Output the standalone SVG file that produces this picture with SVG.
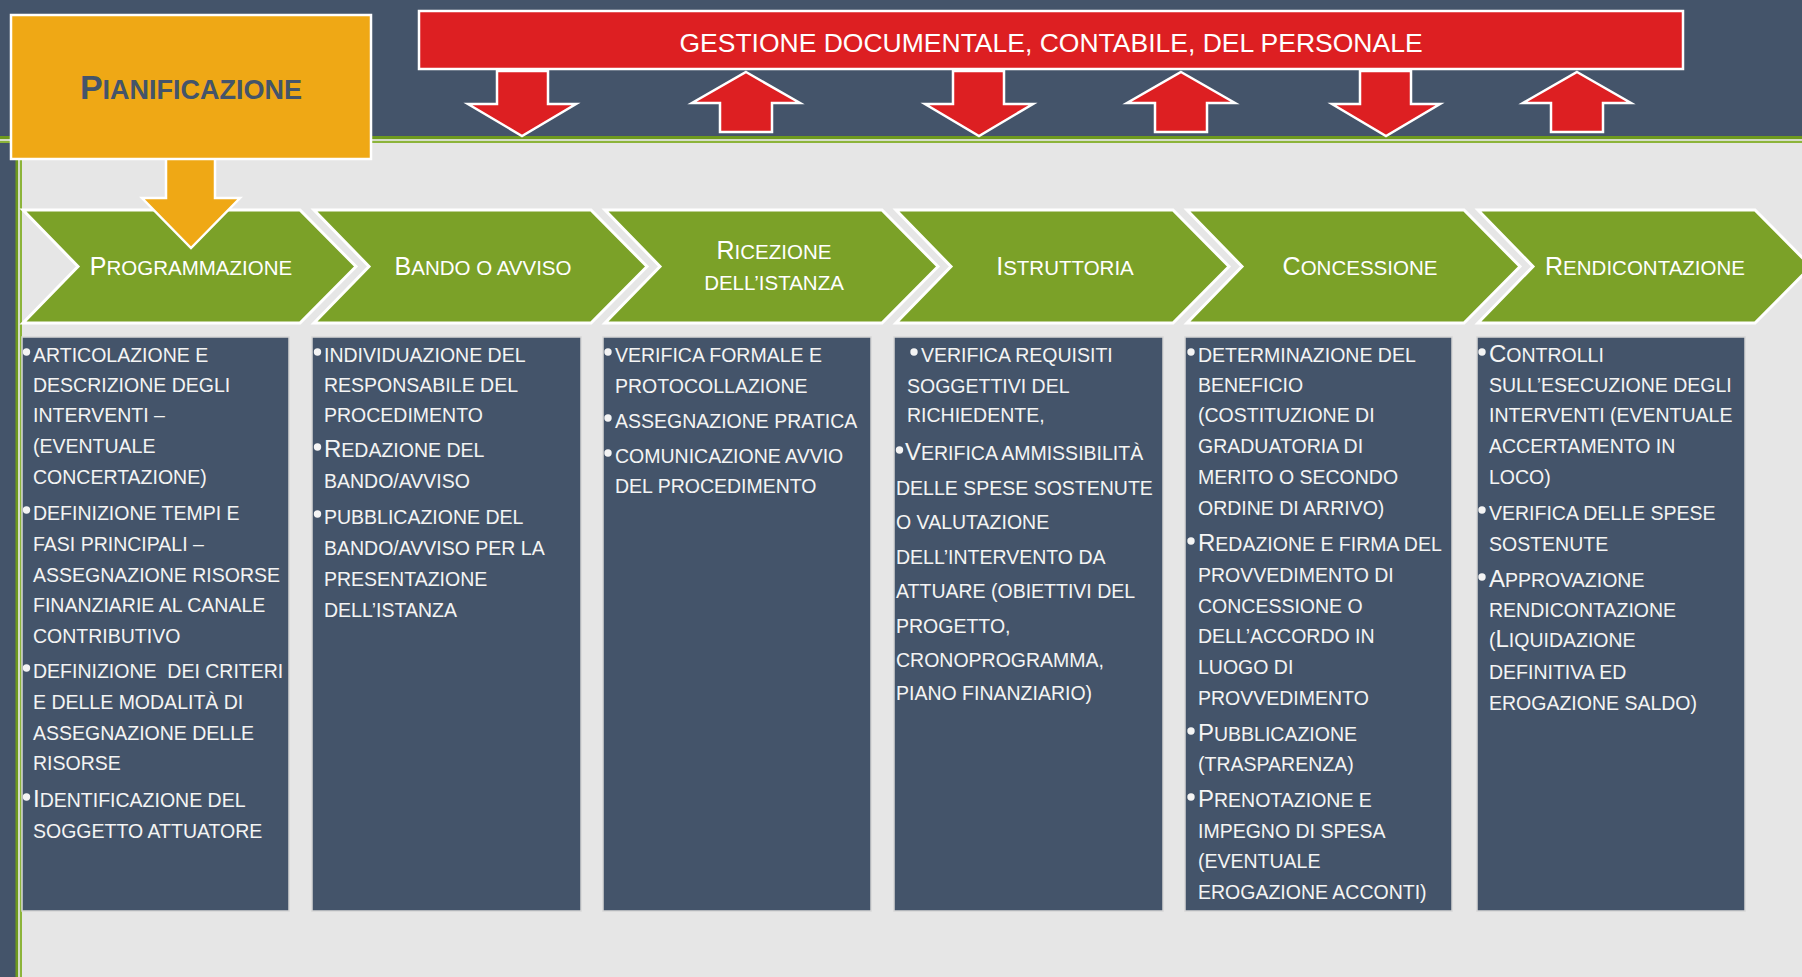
<svg xmlns="http://www.w3.org/2000/svg" width="1802" height="977" viewBox="0 0 1802 977">
<defs>
<style>
text { font-family: "Liberation Sans", Arial, sans-serif; }
.bt { font-size: 19.5px; fill: #F4F4F4; }
.bt .b { font-size: 24px; }
.ch { font-size: 20.5px; fill: #FFFFFF; text-anchor: middle; }
.ch .b { font-size: 25px; }
.chev { fill: #7BA128; stroke: #FFFFFF; stroke-width: 3; stroke-linejoin: miter; }
.box { fill: #44546A; stroke: #D6D6D6; stroke-width: 1.5; }
.bul { fill: #F4F4F4; }
.rarrow { fill: #DD1F22; stroke: #FFFFFF; stroke-width: 2.5; stroke-linejoin: miter; }
</style>
</defs>

<g id="background">
<rect x="0" y="0" width="1802" height="977" fill="#44546A"/>
<rect x="22" y="143" width="1780" height="834" fill="#E6E6E6"/>
<rect x="0" y="136" width="1802" height="3" fill="#6E9A1E"/>
<rect x="0" y="139" width="1802" height="2" fill="#D5DDC6"/>
<rect x="0" y="141" width="1802" height="2" fill="#8CB43A"/>
<rect x="15.5" y="136" width="2.5" height="841" fill="#6E9A1E"/>
<rect x="18" y="136" width="2" height="841" fill="#D5DDC6"/>
<rect x="20" y="136" width="2" height="841" fill="#8CB43A"/>
</g>

<g id="chevron-programmazione">
<polygon class="chev" points="23,210 300,210 356,266.5 300,323 23,323 78,266.5"/>
<text class="ch" x="191" y="275"><tspan class="b">P</tspan>ROGRAMMAZIONE</text>
</g>
<g id="chevron-bando">
<polygon class="chev" points="314,210 591,210 647,266.5 591,323 314,323 369,266.5"/>
<text class="ch" x="483" y="275"><tspan class="b">B</tspan>ANDO O AVVISO</text>
</g>
<g id="chevron-ricezione">
<polygon class="chev" points="605,210 882,210 938,266.5 882,323 605,323 660,266.5"/>
<text class="ch" x="774" y="259"><tspan class="b">R</tspan>ICEZIONE</text>
<text class="ch" x="774" y="290">DELL’ISTANZA</text>
</g>
<g id="chevron-istruttoria">
<polygon class="chev" points="896,210 1173,210 1229,266.5 1173,323 896,323 951,266.5"/>
<text class="ch" x="1065" y="275"><tspan class="b">I</tspan>STRUTTORIA</text>
</g>
<g id="chevron-concessione">
<polygon class="chev" points="1187,210 1464,210 1520,266.5 1464,323 1187,323 1242,266.5"/>
<text class="ch" x="1360" y="275"><tspan class="b">C</tspan>ONCESSIONE</text>
</g>
<g id="chevron-rendicontazione">
<polygon class="chev" points="1478,210 1755,210 1811,266.5 1755,323 1478,323 1533,266.5"/>
<text class="ch" x="1645" y="275"><tspan class="b">R</tspan>ENDICONTAZIONE</text>
</g>

<g id="box-programmazione">
<rect class="box" x="22" y="337" width="267" height="574"/>
<circle class="bul" cx="26.5" cy="352" r="3.7"/>
<circle class="bul" cx="26.5" cy="510" r="3.7"/>
<circle class="bul" cx="26.5" cy="668" r="3.7"/>
<circle class="bul" cx="26.5" cy="797" r="3.7"/>
<text class="bt">
<tspan x="33" y="362">ARTICOLAZIONE E</tspan>
<tspan x="33" y="392">DESCRIZIONE DEGLI</tspan>
<tspan x="33" y="422">INTERVENTI –</tspan>
<tspan x="33" y="453">(EVENTUALE</tspan>
<tspan x="33" y="484">CONCERTAZIONE)</tspan>
<tspan x="33" y="520">DEFINIZIONE TEMPI E</tspan>
<tspan x="33" y="551">FASI PRINCIPALI –</tspan>
<tspan x="33" y="582">ASSEGNAZIONE RISORSE</tspan>
<tspan x="33" y="612">FINANZIARIE AL CANALE</tspan>
<tspan x="33" y="643">CONTRIBUTIVO</tspan>
</text>
<text class="bt" xml:space="preserve" style="white-space:pre" x="33" y="678">DEFINIZIONE  DEI CRITERI</text>
<text class="bt">
<tspan x="33" y="709">E DELLE MODALITÀ DI</tspan>
<tspan x="33" y="740">ASSEGNAZIONE DELLE</tspan>
<tspan x="33" y="770">RISORSE</tspan>
<tspan x="33" y="807"><tspan class="b">I</tspan>DENTIFICAZIONE DEL</tspan>
<tspan x="33" y="838">SOGGETTO ATTUATORE</tspan>
</text>
</g>

<g id="box-bando">
<rect class="box" x="312" y="337" width="269" height="574"/>
<circle class="bul" cx="317.5" cy="352" r="3.7"/>
<circle class="bul" cx="317.5" cy="447" r="3.7"/>
<circle class="bul" cx="317.5" cy="514" r="3.7"/>
<text class="bt">
<tspan x="324" y="362">INDIVIDUAZIONE DEL</tspan>
<tspan x="324" y="392">RESPONSABILE DEL</tspan>
<tspan x="324" y="422">PROCEDIMENTO</tspan>
<tspan x="324" y="457"><tspan class="b">R</tspan>EDAZIONE DEL</tspan>
<tspan x="324" y="488">BANDO/AVVISO</tspan>
<tspan x="324" y="524">PUBBLICAZIONE DEL</tspan>
<tspan x="324" y="555">BANDO/AVVISO PER LA</tspan>
<tspan x="324" y="586">PRESENTAZIONE</tspan>
<tspan x="324" y="617">DELL’ISTANZA</tspan>
</text>
</g>

<g id="box-ricezione">
<rect class="box" x="603" y="337" width="268" height="574"/>
<circle class="bul" cx="608" cy="352" r="3.7"/>
<circle class="bul" cx="608" cy="418" r="3.7"/>
<circle class="bul" cx="608" cy="453" r="3.7"/>
<text class="bt">
<tspan x="615" y="362">VERIFICA FORMALE E</tspan>
<tspan x="615" y="393">PROTOCOLLAZIONE</tspan>
<tspan x="615" y="428">ASSEGNAZIONE PRATICA</tspan>
<tspan x="615" y="463">COMUNICAZIONE AVVIO</tspan>
<tspan x="615" y="493">DEL PROCEDIMENTO</tspan>
</text>
</g>

<g id="box-istruttoria">
<rect class="box" x="894" y="337" width="269" height="574"/>
<circle class="bul" cx="914" cy="352" r="3.7"/>
<circle class="bul" cx="899.5" cy="450" r="3.7"/>
<text class="bt">
<tspan x="921" y="362">VERIFICA REQUISITI</tspan>
<tspan x="907" y="393">SOGGETTIVI DEL</tspan>
<tspan x="907" y="422">RICHIEDENTE,</tspan>
<tspan x="905" y="460"><tspan class="b">V</tspan>ERIFICA AMMISSIBILITÀ</tspan>
<tspan x="896" y="495">DELLE SPESE SOSTENUTE</tspan>
<tspan x="896" y="529">O VALUTAZIONE</tspan>
<tspan x="896" y="564">DELL’INTERVENTO DA</tspan>
<tspan x="896" y="598">ATTUARE (OBIETTIVI DEL</tspan>
<tspan x="896" y="633">PROGETTO,</tspan>
<tspan x="896" y="667">CRONOPROGRAMMA,</tspan>
<tspan x="896" y="700">PIANO FINANZIARIO)</tspan>
</text>
</g>

<g id="box-concessione">
<rect class="box" x="1185" y="337" width="267" height="574"/>
<circle class="bul" cx="1191" cy="352" r="3.7"/>
<circle class="bul" cx="1191" cy="541" r="3.7"/>
<circle class="bul" cx="1191" cy="731" r="3.7"/>
<circle class="bul" cx="1191" cy="797" r="3.7"/>
<text class="bt">
<tspan x="1198" y="362">DETERMINAZIONE DEL</tspan>
<tspan x="1198" y="392">BENEFICIO</tspan>
<tspan x="1198" y="422">(COSTITUZIONE DI</tspan>
<tspan x="1198" y="453">GRADUATORIA DI</tspan>
<tspan x="1198" y="484">MERITO O SECONDO</tspan>
<tspan x="1198" y="515">ORDINE DI ARRIVO)</tspan>
<tspan x="1198" y="551"><tspan class="b">R</tspan>EDAZIONE E FIRMA DEL</tspan>
<tspan x="1198" y="582">PROVVEDIMENTO DI</tspan>
<tspan x="1198" y="613">CONCESSIONE O</tspan>
<tspan x="1198" y="643">DELL’ACCORDO IN</tspan>
<tspan x="1198" y="674">LUOGO DI</tspan>
<tspan x="1198" y="705">PROVVEDIMENTO</tspan>
<tspan x="1198" y="741"><tspan class="b">P</tspan>UBBLICAZIONE</tspan>
<tspan x="1198" y="771">(TRASPARENZA)</tspan>
<tspan x="1198" y="807"><tspan class="b">P</tspan>RENOTAZIONE E</tspan>
<tspan x="1198" y="838">IMPEGNO DI SPESA</tspan>
<tspan x="1198" y="868">(EVENTUALE</tspan>
<tspan x="1198" y="899">EROGAZIONE ACCONTI)</tspan>
</text>
</g>

<g id="box-rendicontazione">
<rect class="box" x="1477" y="337" width="268" height="574"/>
<circle class="bul" cx="1482" cy="352" r="3.7"/>
<circle class="bul" cx="1482" cy="510" r="3.7"/>
<circle class="bul" cx="1482" cy="577" r="3.7"/>
<text class="bt">
<tspan x="1489" y="362"><tspan class="b">C</tspan>ONTROLLI</tspan>
<tspan x="1489" y="392">SULL’ESECUZIONE DEGLI</tspan>
<tspan x="1489" y="422">INTERVENTI (EVENTUALE</tspan>
<tspan x="1489" y="453">ACCERTAMENTO IN</tspan>
<tspan x="1489" y="484">LOCO)</tspan>
<tspan x="1489" y="520">VERIFICA DELLE SPESE</tspan>
<tspan x="1489" y="551">SOSTENUTE</tspan>
<tspan x="1489" y="587"><tspan class="b">A</tspan>PPROVAZIONE</tspan>
<tspan x="1489" y="617">RENDICONTAZIONE</tspan>
<tspan x="1489" y="647">(<tspan class="b">L</tspan>IQUIDAZIONE</tspan>
<tspan x="1489" y="679">DEFINITIVA ED</tspan>
<tspan x="1489" y="710">EROGAZIONE SALDO)</tspan>
</text>
</g>

<g id="connectors">
<polygon fill="#EFA815" stroke="#FFFFFF" stroke-width="2.5" points="166,157 215,157 215,198 240,198 191,248 142,198 166,198"/>
<polygon class="rarrow" points="497,71 548,71 548,104 576,104 522,136 468,104 497,104"/>
<polygon class="rarrow" points="746,72 800,103 772,103 772,132 720,132 720,103 692,103"/>
<polygon class="rarrow" points="953,71 1004,71 1004,104 1033,104 979,136 925,104 953,104"/>
<polygon class="rarrow" points="1181,72 1235,103 1207,103 1207,132 1155,132 1155,103 1127,103"/>
<polygon class="rarrow" points="1360,71 1411,71 1411,104 1440,104 1386,136 1332,104 1360,104"/>
<polygon class="rarrow" points="1577,72 1631,103 1603,103 1603,132 1551,132 1551,103 1523,103"/>
</g>

<g id="node-pianificazione">
<rect x="11" y="15" width="360" height="144" fill="#EFA815" stroke="#FFFFFF" stroke-width="2.5"/>
<text x="191" y="99" text-anchor="middle" font-weight="bold" font-size="27" fill="#44546A"><tspan font-size="34">P</tspan>IANIFICAZIONE</text>
</g>

<g id="node-gestione">
<rect x="419" y="11" width="1264" height="58" fill="#DD1F22" stroke="#FFFFFF" stroke-width="2.5"/>
<text x="1051" y="52" text-anchor="middle" font-size="26.5" fill="#FFFFFF">GESTIONE DOCUMENTALE, CONTABILE, DEL PERSONALE</text>
</g>
</svg>
